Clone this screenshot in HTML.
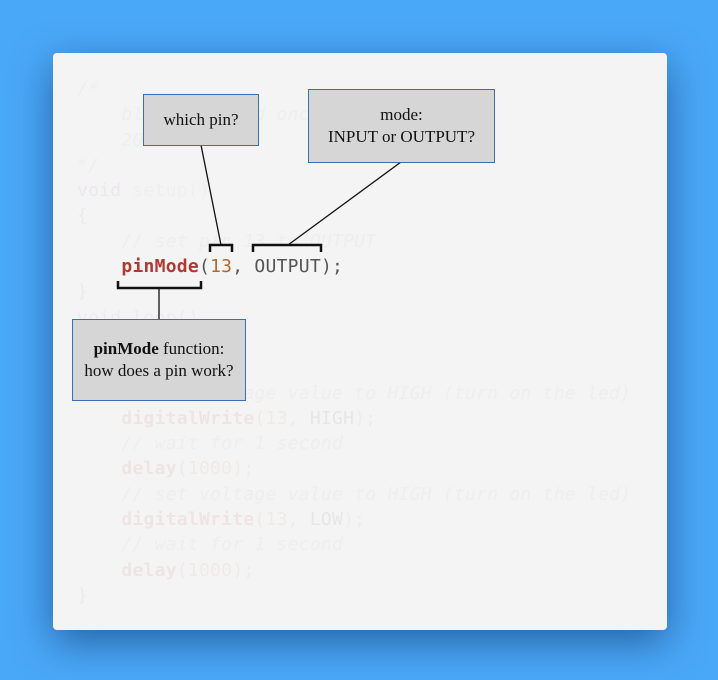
<!DOCTYPE html>
<html><head><style>
body{margin:0;width:718px;height:680px;background:#4aa8f8;overflow:hidden;position:relative;font-family:"Liberation Sans",sans-serif}
.card{position:absolute;left:53px;top:53px;width:614px;height:577px;background:#f4f4f4;border-radius:4px;box-shadow:0 12px 40px rgba(0,30,80,0.5)}
.code{position:absolute;left:77px;top:77px;font-family:"DejaVu Sans Mono","Liberation Mono",monospace;font-size:18px;letter-spacing:0.25px;line-height:25.3px;white-space:pre;color:#ececec}
.k{color:#efe4e4;font-weight:bold}.n{color:#efeae6}.c{font-style:italic;color:#eeeeee}.t{color:#e6e6e6}
.box{position:absolute;background:#d6d6d6;border:1px solid #3a6fb8;box-sizing:border-box;display:flex;align-items:center;justify-content:center;text-align:center;font-family:"Liberation Serif",serif;font-size:17px;line-height:22px;color:#111}
</style></head><body>
<div class="card"></div>
<div class="code"><span class="c">/*
    blink the led once a second
    2018
*/</span>
<span style="color:#ebe7ed">void</span> <span style="color:#efefef">setup()</span>
{
    <span class="c">// set pin 13 to OUTPUT</span>
    <span style="color:#b03a32;font-weight:bold">pinMode</span><span style="color:#555">(</span><span style="color:#b06a30">13</span><span style="color:#555">, OUTPUT);</span>
}
void loop()
{

    <span class="c">// set voltage value to HIGH (turn on the led)</span>
    <span class="k">digitalWrite</span><span class="n">(13, </span><span class="t">HIGH</span>);
    <span class="c">// wait for 1 second</span>
    <span class="k">delay</span><span class="n">(1000)</span>;
    <span class="c">// set voltage value to HIGH (turn on the led)</span>
    <span class="k">digitalWrite</span><span class="n">(13, </span><span class="t">LOW</span>);
    <span class="c">// wait for 1 second</span>
    <span class="k">delay</span><span class="n">(1000)</span>;
}</div>
<svg width="718" height="680" style="position:absolute;left:0;top:0">
<g stroke="#111" stroke-width="1.3" fill="none">
<line x1="201" y1="145" x2="221" y2="245"/>
<line x1="401" y1="162" x2="288" y2="245"/>
<line x1="159" y1="288" x2="159" y2="319"/>
</g>
<g stroke="#111" stroke-width="2.5" fill="none">
<polyline points="210,252 210,245 232,245 232,252"/>
<polyline points="253,252 253,245 321,245 321,252"/>
<polyline points="118,281 118,288 201,288 201,281"/>
</g>
</svg>
<div class="box" style="left:143px;top:94px;width:116px;height:52px">which pin?</div>
<div class="box" style="left:308px;top:89px;width:187px;height:74px">mode:<br>INPUT or OUTPUT?</div>
<div class="box" style="left:72px;top:319px;width:174px;height:82px"><span><b>pinMode</b> function:<br>how does a pin work?</span></div>
</body></html>
